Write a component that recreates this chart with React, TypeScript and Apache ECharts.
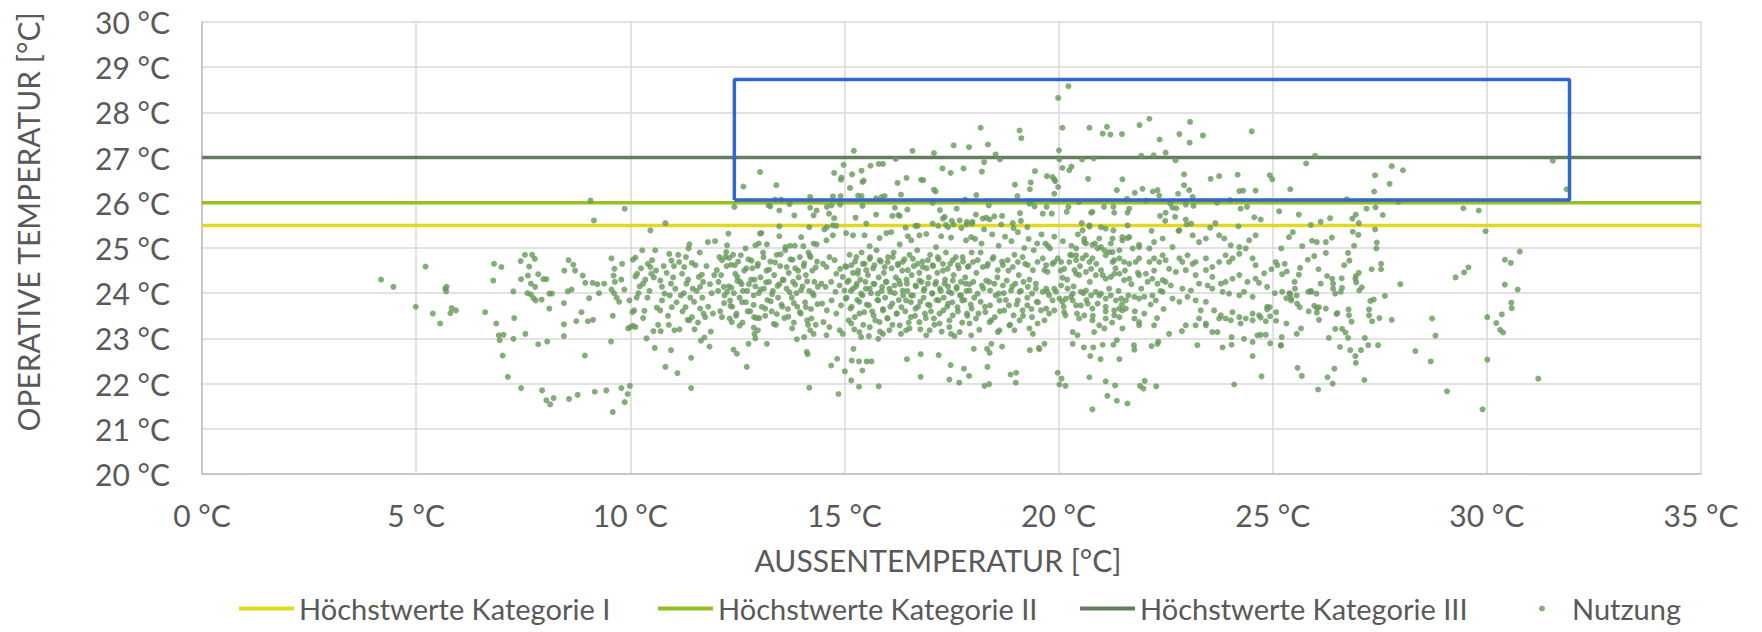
import React, { useEffect, useRef } from "react";
import * as echarts from "echarts";

// ---------- axis ticks ----------
const xTicks = [0, 5, 10, 15, 20, 25, 30, 35];
const yTicks = [20, 21, 22, 23, 24, 25, 26, 27, 28, 29, 30];

// ---------- limit lines ----------
const limitX = [0, 35];
const kategorieI = 25.5;
const kategorieII = 26;
const kategorieIII = 27;

// ---------- highlighted range (blue box) ----------
const boxX = [12.43, 31.93];
const boxY = [26.06, 28.73];

// ---------- scatter "Nutzung" (outdoor temp, operative temp) ----------
const nutzungWest = [
[4.18,24.30],[4.47,24.14],[5.22,24.59],[4.99,23.70],[5.39,23.55],[5.56,23.33],[5.68,24.10],[5.70,24.04],[5.71,24.14],[5.80,23.56],[5.83,23.67],[5.93,23.62],[6.61,23.58],[6.82,24.65],[6.80,24.28],[6.99,24.58],[6.87,23.33],[6.93,23.07],[7.04,23.08],[6.95,22.96],[7.02,22.62],[7.14,22.15],[7.27,24.04],[7.29,23.45],[7.27,22.99],[7.44,24.71],[7.54,24.85],[7.71,24.85],[7.77,24.76],[7.64,24.59],[7.61,24.39],[7.45,24.31],[7.68,24.21],[7.78,24.14],[7.60,24.00],[7.68,23.97],[7.74,23.89],[7.79,23.84],[7.85,24.42],[7.97,24.31],[8.04,24.31],[7.93,23.86],[8.11,23.99],[8.17,23.99],[8.11,23.66],[7.55,23.10],[7.85,22.87],[8.06,22.93],[7.45,21.90],[7.94,21.85],[8.04,21.63],[8.13,21.54],[8.21,21.68],[8.46,24.50],[8.56,24.73],[8.67,24.63],[8.71,24.50],[8.54,24.04],[8.63,24.08],[8.45,23.78],[8.45,23.31],[8.45,23.05],[8.74,23.38],[8.86,23.58],[8.89,24.39],[8.95,24.23],[8.57,21.66],[8.77,21.75],[8.94,22.62],
[9.04,23.89],[9.01,23.38],[9.13,23.41],[9.07,26.05],[9.15,25.61],[9.12,24.23],[9.23,24.20],[9.39,24.21],[9.27,24.00],[9.17,21.82],[9.44,21.85],[9.56,24.77],[9.63,24.54],[9.61,24.39],[9.56,24.08],[9.62,24.00],[9.68,23.90],[9.74,23.81],[9.79,24.30],[9.86,24.08],[9.81,24.65],[9.59,23.50],[9.55,22.93],[9.59,21.37],[9.79,21.90],[9.87,21.59],[9.94,21.77],[9.99,21.95],[9.87,25.87],[9.64,24.25]
];

const nutzungWestCenter = [
[9.95,23.22],[10.00,23.25],[10.06,23.28],[10.12,23.25],[9.98,23.84],[10.05,23.58],[10.09,23.62],[10.06,24.74],[10.12,24.79],[10.16,24.43],[10.12,24.37],[10.22,24.15],[10.30,24.21],[10.19,24.00],[10.33,23.61],[10.41,24.65],[10.47,24.58],[10.49,24.43],[10.47,25.39],[10.51,24.73],[10.82,25.55],[10.54,23.16],[10.57,22.79],[10.70,24.28],[10.74,24.14],[10.82,22.37],[10.71,23.16],[10.62,23.68],[10.70,23.62],[10.74,23.84],[10.80,23.99],[10.91,24.87],[10.96,24.72],[10.95,24.21],[10.97,23.69],[11.10,22.23],[10.95,22.74],[11.03,23.18],[11.14,24.69],[11.26,24.58],[11.21,24.43],[11.31,24.21],[11.38,25.08],[11.36,24.99],[11.44,24.67],[11.29,23.69],[11.34,23.41],[11.38,23.40],[11.44,23.47],[11.42,22.57],[11.42,21.90],
[11.52,24.62],[11.60,24.36],[11.67,24.41],[11.63,24.14],[11.49,23.81],[11.63,23.66],[11.71,23.55],[11.75,23.47],[11.81,25.13],[11.98,25.15],[11.73,23.02],[11.85,22.82],
[12.02,24.51],[12.08,24.80],[12.14,24.73],[12.22,24.80],[12.06,24.25],[12.18,24.14],[12.26,24.03],[12.33,23.84],[12.14,23.47],[12.19,23.78],[12.26,25.06],[12.29,25.32],[12.24,24.91],[12.35,24.63],[12.45,24.43],[12.50,24.36],[12.57,24.25],[12.41,22.75],[12.49,22.66],[12.32,23.44],[12.37,23.36],
[10.25,24.55],[10.35,24.3],[10.4,23.9],[10.45,24.05],[10.55,24.35],[10.6,24.5],[10.65,23.3],[10.78,24.6],[10.85,24.45],[10.88,23.5],[10.92,23.95],[11.0,24.35],[11.05,24.1],[11.08,23.8],[11.12,24.85],[11.18,23.95],[11.22,23.6],[11.25,24.0],[11.3,24.8],[11.35,24.3],[11.4,23.9],[11.46,24.1],[11.5,23.2],[11.55,24.05],[11.58,23.35],[11.62,24.9],[11.68,23.9],[11.7,24.25],[11.78,24.6],[11.82,23.7],[11.86,24.2],[11.9,24.0],[11.93,23.55],[11.96,24.4],[10.3,23.45],[10.38,23.0],[10.58,24.95],[11.02,24.6],[11.15,23.2],[11.65,22.95],[11.88,23.15],[10.15,23.9],[10.28,24.95],[10.9,23.3],
[12.64,26.36],[12.43,25.91],[13.03,26.68],[13.41,26.39],[13.23,25.94],[13.27,25.92],[13.38,26.07],[13.52,26.07],[13.48,25.83],[13.72,25.97],[13.06,25.33],[13.48,25.48],[13.48,25.26],[13.83,25.72],[12.72,22.37],[14.18,21.91],[14.20,25.89],[14.28,25.72],[14.35,25.83],[14.20,26.13],
[12.89,23.47],[12.88,23.24],[12.90,23.10],[12.92,23.00],[12.76,22.88],[13.19,22.88],[13.89,22.98],[14.06,23.03],[14.20,23.18],[14.28,23.10],[14.12,22.70],[14.14,22.65],[13.03,25.32],[13.19,25.08],[13.00,25.10],[12.92,25.06],[12.69,24.99],[13.62,25.02],[13.73,25.05],[13.84,25.05],[13.99,25.24],[14.04,25.04],[14.18,25.46],[14.21,24.80],[14.28,25.10],[14.35,25.08],
[12.05,24.05],[12.1,23.6],[12.12,24.4],[12.2,23.95],[12.25,24.6],[12.3,24.15],[12.38,23.7],[12.4,24.85],[12.42,24.0],[12.48,23.55],[12.52,24.7],[12.55,23.9],[12.6,24.2],[12.62,23.35],[12.66,24.5],[12.7,23.8],[12.73,24.05],[12.76,24.75],[12.8,23.6],[12.82,24.3],[12.85,24.55],[12.88,23.95],[12.92,24.15],[12.95,23.45],[12.98,24.65],[13.0,24.0],[13.04,24.35],[13.07,23.7],[13.1,24.9],[13.12,24.1],[13.15,23.5],[13.18,24.5],[13.2,23.85],[13.24,24.25],[13.27,24.7],[13.3,23.6],[13.33,24.05],[13.36,24.4],[13.4,23.3],[13.42,24.85],[13.45,23.9],[13.48,24.2],[13.5,24.6],[13.53,23.75],[13.56,24.3],[13.6,23.45],[13.62,24.95],[13.65,24.1],[13.68,23.65],[13.7,24.45],[13.74,24.75],[13.77,23.9],[13.8,24.25],[13.82,23.35],[13.85,24.55],[13.88,24.0],[13.9,23.7],[13.93,24.35],[13.96,24.8],[13.98,23.55],[14.02,24.15],[14.05,24.6],[14.08,23.8],[14.1,24.4],[14.13,23.4],[14.16,24.9],[14.18,24.05],[14.22,23.65],[14.25,24.5],[14.28,23.95],[14.3,24.25],[14.33,23.3],[14.36,24.7],
[12.31,24.78],[12.44,24.62],[12.58,24.84],[12.71,24.55],[12.83,24.72],[12.97,24.6],[13.11,24.8],[13.24,24.52],[13.38,24.68],[13.51,24.86],[13.65,24.58],[13.79,24.74],[13.92,24.5],[14.06,24.66],[14.19,24.83],[14.33,24.57],
[12.36,24.12],[12.5,24.27],[12.63,24.05],[12.77,24.2],[12.9,24.3],[13.04,24.08],[13.17,24.24],[13.31,23.98],[13.44,24.16],[13.58,24.29],[13.72,24.02],[13.85,24.19],[13.99,24.07],[14.13,24.26],[14.26,24.0],[14.38,24.14],
[12.34,23.72],[12.47,23.5],[12.61,23.8],[12.74,23.6],[12.88,23.74],[13.01,23.45],[13.15,23.66],[13.28,23.82],[13.42,23.54],[13.55,23.7],[13.69,23.48],[13.82,23.78],[13.96,23.58],[14.1,23.69],[14.23,23.44],[14.37,23.76],
[12.55,23.28],[12.98,23.18],[13.35,23.32],[13.78,23.22],[14.15,23.3]
];

const nutzungCenter = [
[15.22,27.15],[14.98,26.84],[14.76,26.66],[14.93,26.56],[14.92,26.51],[15.18,26.63],[15.13,26.33],[15.40,26.71],[15.61,26.82],[15.80,26.86],[15.90,26.86],[15.42,26.46],[15.45,26.49],[16.20,26.97],[16.24,26.44],[16.45,26.55],[16.59,27.15],[16.79,26.51],[16.84,26.50],[17.09,27.10],[17.29,26.76],[17.48,26.66],[17.55,27.27],[17.78,26.76],[17.91,27.23],[17.09,26.29],[17.13,26.25],
[14.73,26.14],[14.91,26.15],[15.32,26.16],[15.40,26.15],[15.74,26.10],[15.87,26.13],[15.94,26.15],[16.32,26.18],[17.82,26.07],
[14.70,25.94],[14.90,25.96],[15.42,25.93],[16.18,25.89],[16.26,25.73],[16.47,25.85],[17.06,26.00],[17.23,25.84],[17.62,25.87],
[14.59,25.91],[14.64,25.76],[14.76,25.66],[15.26,25.67],[15.74,25.74],[16.12,25.71],[16.29,25.71],[17.30,25.65],[17.34,25.69],[17.51,25.60],[17.69,25.61],[17.86,25.58],[17.99,25.58],
[14.53,25.41],[14.59,25.46],[14.73,25.50],[14.81,25.49],[15.51,25.54],[16.43,25.45],[16.66,25.49],[16.71,25.49],[17.06,25.54],[17.19,25.49],[17.37,25.51],[17.42,25.46],[17.55,25.52],[17.73,25.44],[17.85,25.52],[17.98,25.54],
[15.04,25.33],[15.2,25.28],[15.47,25.28],[15.59,25.04],[15.82,25.22],[15.98,25.33],[16.09,25.35],[16.29,25.08],[16.48,25.26],[16.56,25.17],[16.75,25.28],[16.91,25.31],[17.14,25.02],[17.26,25.26],[17.49,25.23],[17.84,25.17],[17.96,25.24],[14.58,25.17],[14.73,25.28],
[15.21,22.77],[14.83,22.55],[14.69,22.40],[15.17,22.51],[15.34,22.49],[15.52,22.49],[15.63,22.49],[15.42,22.29],[15.01,22.27],[15.16,22.07],[15.34,21.93],[14.86,21.77],[15.80,21.94],[15.79,22.99],[16.46,22.54],[16.78,22.65],[17.20,22.63],[16.78,22.15],[17.48,22.41],[17.45,22.09],[17.68,22.02],[17.79,22.33],[17.91,22.17],
[18.18,27.66],[19.09,27.60],[19.13,27.43],[18.35,27.29],[18.53,27.07],[18.63,26.96],[18.21,26.69],[18.26,26.90],[18.98,26.40],[19.35,26.45],[19.33,26.30],[19.45,26.70],[18.08,26.17],[19.04,26.15],[18.37,25.94],[19.32,25.98],[19.44,25.92],[19.37,26.04],[18.07,25.74],[18.23,25.65],[18.31,25.67],[18.39,25.63],[18.50,25.70],[18.68,25.71],[18.93,25.55],[19.10,25.77],[19.12,25.60],[18.26,25.41],[18.66,25.52],[18.95,25.44],[19.27,25.46],
[18.02,22.77],[18.33,22.77],[18.39,22.68],[18.43,22.88],[18.68,22.82],[18.34,22.37],[18.27,21.95],[18.38,21.99],[18.88,22.20],[19.01,22.24],[19.00,22.02],[19.33,22.74],[19.54,22.79],
[18.05,25.2],[18.2,25.1],[18.45,25.3],[18.6,25.05],[18.75,25.25],[18.9,25.15],[19.05,25.35],[19.2,25.0],[19.3,25.2],[19.5,25.1],
[14.5,24.65],[14.58,24.58],[14.65,24.8],[14.77,24.73],[14.81,24.43],[14.9,24.54],[14.96,24.36],[15.04,24.58],[15.16,24.62],[15.28,24.8],[15.31,24.43],[15.43,24.65],[15.51,24.51],[15.59,24.76],[15.7,24.62],[15.82,24.73],[15.94,24.58],[16.01,24.69],[16.13,24.8],[16.25,24.62],[16.36,24.69],[16.48,24.51],[16.6,24.76],[16.71,24.65],[16.83,24.58],[16.95,24.73],[17.06,24.62],[17.18,24.8],[17.3,24.65],[17.41,24.54],[17.53,24.73],[17.65,24.62],[17.76,24.8],[17.88,24.58],[18.0,24.69],[18.11,24.73],[18.23,24.58],[18.35,24.65],[18.46,24.76],[18.58,24.51],[18.7,24.62],[18.81,24.73],[18.93,24.58],[19.05,24.69],[19.16,24.8],[19.28,24.62],[19.4,24.51],[19.51,24.69],
[14.46,24.21],[14.56,24.14],[14.69,24.25],[14.79,24.03],[14.89,24.17],[15.0,24.06],[15.1,24.28],[15.2,24.1],[15.29,24.21],[15.39,23.99],[15.49,24.25],[15.59,24.1],[15.68,24.21],[15.78,23.99],[15.88,24.14],[15.98,24.25],[16.07,24.03],[16.17,24.17],[16.27,24.28],[16.36,24.06],[16.46,24.21],[16.56,23.95],[16.66,24.17],[16.75,24.28],[16.85,24.06],[16.95,24.21],[17.05,23.99],[17.14,24.25],[17.23,24.1],[17.34,24.21],[17.44,24.03],[17.53,24.28],[17.62,24.14],[17.72,23.95],[17.83,24.21],[17.92,24.06],[18.01,24.25],[18.11,23.99],[18.21,24.17],[18.31,24.28],[18.4,24.06],[18.5,24.21],[18.6,23.99],[18.7,24.17],[18.79,24.28],[18.89,24.06],[18.99,24.21],[19.09,24.03],[19.18,24.25],[19.28,24.14],[19.38,23.99],[19.47,24.21],
[14.48,23.77],[14.59,23.62],[14.7,23.84],[14.81,23.55],[14.92,23.73],[15.03,23.88],[15.14,23.66],[15.24,23.47],[15.35,23.81],[15.46,23.58],[15.57,23.73],[15.68,23.51],[15.79,23.84],[15.9,23.62],[16.01,23.44],[16.12,23.77],[16.22,23.55],[16.33,23.69],[16.44,23.84],[16.55,23.47],[16.66,23.66],[16.77,23.81],[16.88,23.55],[16.99,23.73],[17.09,23.44],[17.2,23.84],[17.31,23.62],[17.42,23.77],[17.53,23.51],[17.64,23.69],[17.75,23.84],[17.86,23.55],[17.97,23.66],[18.07,23.44],[18.18,23.81],[18.29,23.58],[18.4,23.73],[18.51,23.47],[18.62,23.84],[18.73,23.62],[18.84,23.73],[18.95,23.51],[19.05,23.84],[19.16,23.62],[19.27,23.73],[19.38,23.47],[19.49,23.81],
[14.51,23.36],[14.65,23.25],[14.89,23.18],[15.16,23.33],[15.35,23.14],[15.59,23.25],[15.82,23.36],[16.05,23.18],[16.29,23.29],[16.52,23.22],[16.75,23.36],[16.99,23.18],[17.22,23.33],[17.45,23.25],[17.69,23.14],[17.92,23.33],[18.15,23.19],[18.39,23.36],[18.62,23.18],[18.85,23.29],[19.09,23.4],[19.32,23.22],[19.51,23.33],
[14.58,23.07],[14.96,23.1],[15.39,23.03],[15.9,23.1],[16.44,23.18],[16.91,23.07],[17.49,23.1],[17.96,23.07],[18.58,23.14],[18.97,23.18],[19.4,23.1],
[15.02,24.6],[15.05,23.9],[15.07,24.25],[15.1,23.4],[15.12,24.85],[15.15,24.05],[15.17,23.7],[15.2,24.45],[15.23,23.2],[15.25,24.7],[15.27,24.15],[15.3,23.85],[15.32,24.5],[15.35,23.55],[15.37,24.3],[15.4,24.9],[15.42,23.95],[15.44,23.3],[15.47,24.65],[15.5,24.1],[15.52,23.75],[15.55,24.4],[15.57,23.05],[15.6,24.8],[15.62,24.0],[15.65,23.6],[15.67,24.55],[15.7,24.2],[15.72,23.4],[15.75,24.95],[15.77,23.85],[15.8,24.35],[15.83,23.15],[15.85,24.7],[15.87,24.05],[15.9,23.65],[15.92,24.45],[15.95,23.9],[15.97,24.25],[16.0,23.45],[16.02,24.8],[16.05,24.1],[16.07,23.7],[16.1,24.55],[16.12,23.3],[16.15,24.9],[16.17,24.0],[16.2,24.35],[16.22,23.55],[16.25,24.65],[16.27,23.85],[16.3,24.2],[16.32,23.1],[16.35,24.5],[16.37,23.95],[16.4,24.75],[16.42,23.6],[16.45,24.3],[16.47,24.05],[16.5,23.35],[16.52,24.85],[16.55,23.8],[16.57,24.4],[16.6,23.95],[16.62,24.6],[16.65,23.5],[16.67,24.15],[16.7,24.95],[16.72,23.7],[16.75,24.45],[16.77,23.2],[16.8,24.25],[16.82,24.7],[16.85,23.9],[16.87,24.1],[16.9,23.45],[16.92,24.55],[16.95,23.75],[16.97,24.35],[17.0,24.85],[17.02,23.6],[17.05,24.0],[17.07,24.6],[17.1,23.3],[17.12,24.2],[17.15,23.85],[17.17,24.45],[17.2,24.75],[17.22,23.55],[17.25,24.05],[17.27,23.15],[17.3,24.5],[17.32,23.9],[17.35,24.3],[17.37,24.9],[17.4,23.7],[17.42,24.15],[17.45,23.4],[17.47,24.65],[17.5,24.0],[17.52,23.8],[17.55,24.4],[17.57,23.05],[17.6,24.8],[17.62,24.1],[17.65,23.6],[17.67,24.55],[17.7,23.95],[17.72,24.25],[17.75,23.35],[17.77,24.7],[17.8,23.85],[17.82,24.35],[17.85,24.05],[17.87,23.5],[17.9,24.6],[17.92,24.2],[17.95,23.75],[17.97,24.9],
[18.03,23.9],[18.08,24.45],[18.13,23.55],[18.18,24.9],[18.24,24.1],[18.28,23.7],[18.33,24.6],[18.38,24.25],[18.43,23.4],[18.48,24.8],[18.53,23.95],[18.57,24.35],[18.63,23.6],[18.68,24.7],[18.72,24.0],[18.77,23.85],[18.83,24.5],[18.87,23.3],[18.92,24.15],[18.97,24.85],[19.02,23.75],[19.07,24.4],[19.12,24.05],[19.17,23.5],[19.22,24.65],[19.27,23.9],[19.32,24.3],[19.37,23.65],[19.42,24.95],[19.47,24.1],[19.52,23.8]
];

const nutzungEastCenter = [
[20.23,28.58],[19.99,28.32],[20.09,27.66],[20.72,27.66],[20.01,27.16],[20.02,26.96],[20.09,26.77],[20.25,26.72],[20.30,26.80],[20.55,26.96],[20.82,26.98],[19.73,26.59],[19.86,26.57],[19.90,26.52],[19.92,26.48],[19.99,26.35],[19.90,26.20],[20.69,26.53],
[19.72,25.91],[20.23,25.91],[20.48,26.02],[21.06,25.91],[19.63,25.76],[19.84,25.76],[20.19,25.80],[20.76,25.78],[20.79,25.80],[20.54,25.55],[20.72,25.50],[20.99,25.46],
[19.6,25.3],[19.75,25.05],[19.9,25.25],[20.1,25.15],[20.3,25.05],[20.45,25.3],[20.6,25.2],[20.85,25.1],
[19.55,22.76],[19.67,22.88],[20.33,22.88],[20.59,22.80],[20.81,22.80],[20.74,22.61],[20.98,22.54],[19.98,22.24],[20.07,22.11],[20.02,21.98],[20.16,21.95],[20.72,22.14],[20.79,21.43],
[21.03,27.53],[21.21,27.51],[21.13,27.68],[21.48,27.52],[21.89,27.72],[22.12,27.86],[22.36,27.40],[22.82,27.52],[23.07,27.79],[23.06,27.33],[23.37,27.49],[21.93,27.04],[22.22,27.05],[22.50,27.11],[22.73,26.94],[21.49,26.52],[21.36,26.28],[21.78,26.22],[21.96,26.31],[22.20,26.25],[22.31,26.28],[22.35,26.16],[22.79,26.20],[22.93,26.63],[22.93,26.39],[23.05,26.28],[23.13,26.13],[23.55,26.53],[23.75,26.59],[24.18,26.62],[24.22,26.26],[24.31,26.27],[24.60,26.27],[24.51,27.58],
[21.28,25.91],[21.60,26.09],[21.65,25.87],[22.04,26.05],[22.61,25.98],[22.66,25.89],[22.75,25.88],[22.97,25.96],[23.15,25.93],[23.70,26.00],[24.00,26.06],[24.25,25.87],[24.40,25.91],
[21.30,25.78],[21.61,25.78],[22.37,25.71],[22.50,25.78],[22.72,25.69],[22.97,25.63],[23.09,25.54],[22.49,25.60],[22.99,25.52],[21.28,25.39],[21.61,25.50],[22.17,25.38],[22.80,25.38],[23.54,25.45],[23.66,25.55],[24.20,25.48],[24.57,25.68],
[21.42,22.54],[21.03,22.86],[21.28,22.86],[21.36,22.96],[21.77,22.75],[21.76,22.85],[22.17,22.83],[22.31,22.88],[22.33,22.93],[23.24,22.85],[23.83,22.80],[24.04,22.86],[24.53,22.61],[21.10,22.05],[21.32,21.96],[21.90,21.95],[22.01,22.06],[21.98,21.89],[22.28,21.94],[24.10,21.98],[21.14,21.73],[21.36,21.62],[21.61,21.56],
[19.69,25.1],[19.8,24.99],[19.63,24.77],[19.71,24.62],[19.67,24.51],[19.74,24.47],[19.86,24.65],[19.9,24.69],[19.98,24.77],[20.06,24.69],[20.13,24.54],[20.25,24.69],[20.31,24.84],[20.37,24.51],[20.41,24.43],[20.09,24.34],[19.71,24.1],[19.63,24.03],[19.78,23.95],[19.86,23.84],[19.94,24.03],[20.02,23.88],[20.09,23.81],[20.17,23.88],[20.29,23.92],[20.33,23.84],[19.71,23.66],[19.78,23.55],[19.9,23.62],[20.13,23.58],[20.16,23.51],[19.67,23.4],[19.59,23.62],[19.74,24.03],[19.9,24.1],[20.06,24.17],[20.21,24.1],[20.33,23.99],
[20.41,24.84],[20.56,24.77],[20.64,24.84],[20.72,24.69],[20.79,24.77],[20.91,24.99],[20.99,25.02],[21.07,24.95],[21.1,24.84],[21.18,24.91],[21.26,24.69],[21.3,24.73],[21.42,24.77],[21.53,24.69],[21.65,24.65],[21.8,24.69],[21.88,24.77],[22.12,24.69],[22.23,24.77],[22.35,24.69],
[20.48,24.4],[20.64,24.47],[20.76,24.54],[20.87,24.4],[20.99,24.51],[21.1,24.32],[21.22,24.36],[21.3,24.43],[21.42,24.43],[21.53,24.29],[21.65,24.32],[21.88,24.4],[22.04,24.43],[22.19,24.32],[22.31,24.21],[22.43,24.29],
[20.52,24.03],[20.64,24.06],[20.76,23.95],[20.87,24.03],[20.99,23.99],[21.1,23.88],[21.22,23.95],[21.34,23.84],[21.46,23.88],[21.57,23.84],[21.77,23.92],[21.88,23.88],[22.0,23.92],[22.19,23.95],[22.27,23.84],[22.43,24.03],
[20.41,23.73],[20.52,23.73],[20.68,23.77],[20.79,23.66],[20.91,23.77],[21.1,23.7],[21.3,23.62],[21.42,23.66],[21.49,23.62],[21.57,23.66],
[20.48,23.44],[20.6,23.51],[20.79,23.4],[20.95,23.29],[21.1,23.44],[21.3,23.51],[21.42,23.47],[21.77,23.44],[21.88,23.36],[22.23,23.29],
[20.33,23.14],[20.44,23.07],[20.83,23.14],[21.07,23.22],[21.49,23.22],[21.88,23.29],[22.58,23.1],[22.88,23.16],[22.97,23.29],[23.2,23.29],[23.44,23.29],[23.59,23.14],[23.71,23.14],[24.04,23.03],[24.33,22.99],[24.53,22.92],[24.64,23.07],
[22.43,24.84],[22.5,24.73],[22.82,24.77],[22.89,24.69],[23.01,24.84],[23.13,24.65],[23.2,24.69],[23.44,24.77],[23.59,24.58],[23.75,24.69],[23.9,24.84],[23.98,24.69],[24.06,24.77],[24.22,24.87],[24.37,24.99],[24.53,24.77],[24.6,24.62],
[22.58,24.54],[22.74,24.47],[22.97,24.51],[23.2,24.4],[23.44,24.51],[23.59,24.36],[23.79,24.21],[23.9,24.25],[24.06,24.32],[24.22,24.4],[24.41,24.25],[24.6,24.32],
[22.5,24.25],[22.62,24.17],[22.89,24.1],[23.09,24.06],[23.28,24.21],[23.48,24.17],[23.59,24.1],[23.83,24.03],[23.98,23.99],[24.22,23.95],[24.33,24.03],[24.53,23.92],
[22.66,23.88],[22.82,23.81],[23.01,23.92],[23.2,23.84],[23.44,23.81],[23.63,23.62],[23.79,23.51],[23.9,23.44],[24.06,23.58],[24.22,23.47],[24.37,23.44],[24.53,23.55],[24.68,23.51],[23.32,23.62],[23.28,23.44],[23.44,23.33],[23.75,23.44],[24.02,23.4],[24.25,23.33],[24.53,23.4],
[22.12,24.99],[22.23,25.13],[22.43,25.21],[22.66,25.02],[23.28,25.13],[23.44,25.21],[23.75,25.28],[23.87,25.21],[24.02,25.06],[24.22,25.02],[24.45,25.17],[24.6,25.28],[22.82,25.39],[23.13,25.28],[21.88,25.02],[21.73,24.99],[21.49,25.17],[21.61,25.22],[21.42,24.95],[21.26,24.91],[21.22,25.1],[20.95,25.21],[20.79,25.07],[20.64,25.1],[20.41,24.73],[20.41,24.99],[20.56,25.39],[20.6,25.13],[20.72,25.47],[21.1,25.43],[21.26,25.21],[21.49,25.24],[21.65,25.24],[21.88,25.07],
[20.05,24.5],[20.12,23.7],[20.2,24.3],[20.27,24.85],[20.35,24.15],[20.43,23.55],[20.5,24.6],[20.58,24.0],[20.65,23.85],[20.73,24.25],[20.8,23.5],[20.88,24.65],[20.95,23.95],[21.03,24.4],[21.1,23.6],[21.18,24.1],[21.25,23.35],[21.33,24.55],[21.4,24.05],[21.48,23.75],[21.55,24.5],[21.63,23.95],[21.7,24.2],[21.78,23.6],[21.85,24.45],[21.93,24.1],[22.0,23.55],[22.08,24.25],[22.15,23.75],[22.23,24.5],[22.3,23.45],[22.38,24.05],[22.45,23.65]
];

const nutzungEast = [
[25.99,27.04],[25.78,26.87],[24.93,26.61],[24.99,26.52],[25.41,26.30],[26.73,26.08],[27.78,26.81],[28.04,26.72],[27.39,26.61],[27.73,26.42],[27.37,26.25],[27.40,25.90],[27.19,25.87],[27.93,26.02],[25.15,25.81],[25.61,25.74],[25.89,25.51],[26.12,25.58],[26.34,25.66],[26.86,25.65],[26.94,25.74],[27.01,25.55],[27.57,25.73],[27.39,25.41],
[24.72,25.63],[25.38,25.24],[25.47,25.35],[25.92,25.16],[26.03,25.13],[26.24,25.13],[26.38,25.23],[26.87,25.36],[27.00,25.29],[27.43,25.12],[27.42,24.99],[25.20,24.99],[25.69,25.04],[26.90,25.05],
[24.74,22.16],[25.58,22.35],[25.68,22.17],[26.06,21.87],[26.28,22.14],[26.40,22.00],[26.44,22.33],[27.14,22.08],[26.94,22.46],[26.93,22.61],[27.06,22.74],[26.81,22.74],[26.57,22.81],[26.31,23.01],[26.76,23.01],[27.15,23.01],[27.23,22.85],[26.70,23.13],[25.56,23.10],[25.19,22.85],[24.94,22.89],[24.84,23.08],
[24.8,24.44],[24.97,24.53],[25.07,24.69],[25.11,24.62],[25.28,24.65],[25.33,24.48],[25.22,24.42],[25.51,24.25],[25.52,24.1],[25.61,24.41],[25.64,24.56],[25.82,24.74],[25.97,24.82],[26.07,24.53],[26.12,24.21],[26.24,24.89],[26.27,24.38],[26.39,24.32],[26.41,24.21],[26.46,23.99],[26.59,24.03],[26.62,24.12],[26.67,24.62],[26.76,24.89],[26.79,24.72],[26.94,24.38],[26.95,24.24],[27.01,24.45],[27.02,24.06],[27.31,24.53],[27.53,24.65],[27.53,24.53],
[24.68,24.23],[24.87,24.14],[25.05,24.0],[25.22,24.03],[25.32,23.89],[25.39,24.0],[25.43,23.84],[25.56,23.95],[25.57,23.77],[25.63,23.69],[25.89,24.05],[26.02,23.99],[25.84,23.6],[25.97,23.72],[26.03,23.57],[26.08,23.41],[26.24,23.66],[26.49,23.54],[26.51,23.56],[26.77,23.64],[26.78,23.51],[26.84,23.37],[27.28,23.83],[27.36,23.86],[27.62,23.94],[27.49,23.45],[27.78,23.41],[27.98,24.20],
[24.87,23.7],[24.93,23.69],[24.87,23.64],[24.94,23.49],[25.08,23.58],[25.08,23.39],[24.84,23.38],[25.32,23.33],[24.72,23.46],[24.72,23.08],[25.21,23.03],[25.19,22.84],[25.66,23.22],[26.46,23.21],[26.62,23.21],
[25.41,23.98],[25.43,23.88],[25.83,24.03],[25.9,24.03],[26.03,23.67],[26.08,23.69],[26.41,24.1],[26.61,24.33],[26.93,24.32],[27.08,24.13],[27.25,23.64],[27.25,23.51],[27.32,23.38],[27.46,22.85],
[28.72,23.44],[28.80,23.06],[28.33,22.72],[28.69,22.49],[29.07,21.83],[29.27,24.35],[29.47,24.46],[29.57,24.57],
[31.54,26.93],[31.86,26.30],[29.97,25.37],[29.45,25.88],[29.81,25.83],[30.42,24.74],[30.56,24.67],[30.77,24.92],[30.42,24.19],[30.72,24.08],[30.57,23.79],[30.58,23.67],[30.35,23.53],[30.22,23.34],[30.31,23.19],[30.38,23.13],[30.01,23.47],[30.01,22.53],[31.20,22.11],[29.90,21.43]
];

const nutzung = [
  ...nutzungWest,
  ...nutzungWestCenter,
  ...nutzungCenter,
  ...nutzungEastCenter,
  ...nutzungEast,
];

const FONT = 'Lato, "Open Sans", sans-serif';
const GREY = "#595959";
const COLOR_I = "#e0d924";
const COLOR_II = "#94c11f";
const COLOR_III = "#647c60";
const COLOR_DOT = "#67985a";

export default function App() {
  const ref = useRef<HTMLDivElement>(null);

  useEffect(() => {
    if (!ref.current) return;
    const chart = echarts.init(ref.current, null, { renderer: "svg" });

    const limitLine = (name: string, value: number, color: string) => ({
      name,
      type: "line",
      data: limitX.map((x) => [x, value]),
      symbol: "none",
      showSymbol: false,
      lineStyle: { color, width: 3.5 },
      itemStyle: { color },
      z: 2,
      silent: true,
    });

    const legendBase = {
      top: 594,
      padding: 0,
      itemWidth: 55,
      itemHeight: 4,
      selectedMode: false,
      textStyle: {
        fontFamily: FONT,
        fontSize: 29,
        lineHeight: 29,
        color: GREY,
      },
    };

    chart.setOption({
      animation: false,
      backgroundColor: "#ffffff",
      grid: { left: 202, right: 61, top: 22, bottom: 158 },
      xAxis: {
        type: "value",
        min: xTicks[0],
        max: xTicks[xTicks.length - 1],
        interval: 5,
        axisLine: { show: true, lineStyle: { color: "#bfbfbf", width: 1.5 } },
        axisTick: { show: false },
        splitLine: { show: true, lineStyle: { color: "#d9d9d9", width: 1.5 } },
        axisLabel: {
          formatter: (v: number) => `${v} °C`,
          fontFamily: FONT,
          fontSize: 30,
          color: GREY,
          margin: 26,
        },
      },
      yAxis: {
        type: "value",
        min: yTicks[0],
        max: yTicks[yTicks.length - 1],
        interval: 1,
        axisLine: { show: true, lineStyle: { color: "#bfbfbf", width: 1.5 } },
        axisTick: { show: false },
        splitLine: { show: true, lineStyle: { color: "#d9d9d9", width: 1.5 } },
        axisLabel: {
          formatter: (v: number) => `${v} °C`,
          fontFamily: FONT,
          fontSize: 30,
          color: GREY,
          margin: 32,
        },
      },
      legend: [
        { ...legendBase, left: 239, data: [{ name: "Höchstwerte Kategorie I", icon: "rect" }] },
        { ...legendBase, left: 658, data: [{ name: "Höchstwerte Kategorie II", icon: "rect" }] },
        { ...legendBase, left: 1080, data: [{ name: "Höchstwerte Kategorie III", icon: "rect" }] },
        {
          ...legendBase,
          left: 1539,
          itemWidth: 6,
          itemHeight: 6,
          itemGap: 0,
          textStyle: { ...legendBase.textStyle, padding: [0, 0, 0, 22] },
          data: [{ name: "Nutzung", icon: "circle" }],
        },
      ],
      graphic: [
        {
          type: "text",
          x: 938,
          y: 560,
          style: {
            text: "AUSSENTEMPERATUR [°C]",
            fontFamily: FONT,
            fontSize: 30,
            fill: GREY,
            align: "center",
            verticalAlign: "middle",
          },
        },
        {
          type: "text",
          x: 28,
          y: 222,
          rotation: Math.PI / 2,
          style: {
            text: "OPERATIVE TEMPERATUR [°C]",
            fontFamily: FONT,
            fontSize: 30,
            fill: GREY,
            align: "center",
            verticalAlign: "middle",
          },
        },
      ],
      series: [
        limitLine("Höchstwerte Kategorie I", kategorieI, COLOR_I),
        limitLine("Höchstwerte Kategorie II", kategorieII, COLOR_II),
        limitLine("Höchstwerte Kategorie III", kategorieIII, COLOR_III),
        {
          name: "Nutzung",
          type: "scatter",
          data: nutzung,
          symbol: "circle",
          symbolSize: 6,
          itemStyle: { color: COLOR_DOT },
          z: 3,
          silent: true,
        },
        {
          name: "Bereich",
          type: "line",
          data: [
            [boxX[0], boxY[0]],
            [boxX[1], boxY[0]],
            [boxX[1], boxY[1]],
            [boxX[0], boxY[1]],
            [boxX[0], boxY[0]],
          ],
          symbol: "none",
          showSymbol: false,
          lineStyle: { color: "#3366cc", width: 3.5 },
          z: 4,
          silent: true,
        },
      ],
    });

    return () => chart.dispose();
  }, []);

  return (
    <div
      ref={ref}
      style={{ position: "absolute", left: 0, top: 0, width: 1762, height: 632 }}
    />
  );
}
